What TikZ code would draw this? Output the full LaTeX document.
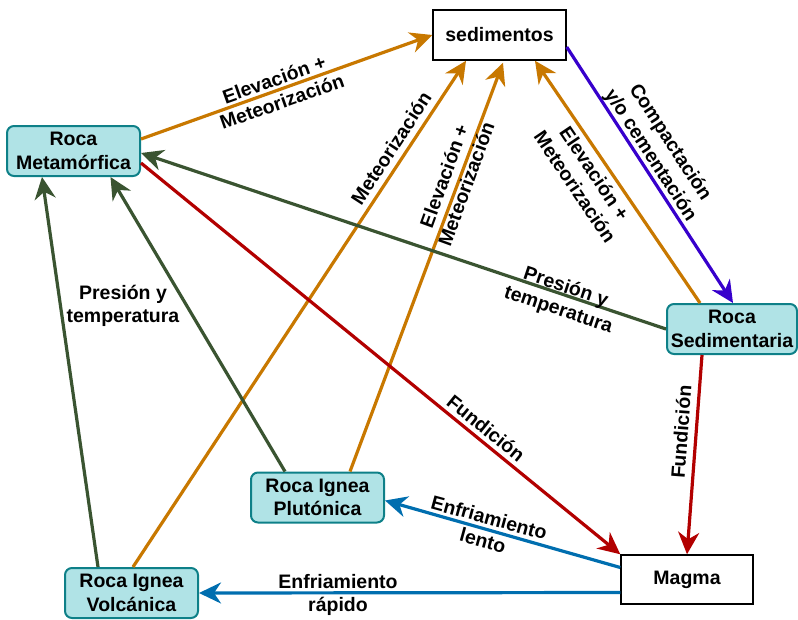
\documentclass[tikz,border=0pt]{standalone}
\usepackage{fontspec}
\setmainfont{Liberation Sans}
\usetikzlibrary{arrows.meta}
\definecolor{rockfill}{HTML}{B0E3E6}
\definecolor{rockline}{HTML}{0E8088}
\definecolor{corange}{RGB}{200,120,0}
\definecolor{cgreen}{HTML}{3A5431}
\definecolor{cred}{HTML}{B20000}
\definecolor{cblue}{HTML}{006EAF}
\definecolor{cpurple}{HTML}{3700CC}
\tikzset{
  txt/.style={font=\fontsize{19.5}{23.5}\selectfont\bfseries, align=center},
  rock/.style={txt, draw=rockline, fill=rockfill, line width=2pt, rounded corners=7pt,
    minimum width=133pt, minimum height=50pt, inner sep=0pt},
  plainbox/.style={txt, draw=black, fill=white, line width=1.5pt,
    minimum width=133pt, minimum height=50pt, inner sep=0pt},
  conn/.style={line width=3.2pt, -{Stealth[length=22pt,width=21pt,inset=7pt]}},
  orng/.style={conn, draw=corange},
  grn/.style={conn, draw=cgreen},
  rd/.style={conn, draw=cred},
  blu/.style={conn, draw=cblue},
  purp/.style={conn, draw=cpurple},
  lbl/.style={txt, inner sep=0pt},
}
\begin{document}
\begin{tikzpicture}[x=1pt,y=-1pt]
\useasboundingbox (0,0) rectangle (798,619);
% nodes
\node[plainbox] (sed) at (499.5,35) {sedimentos};
\node[rock] (met) at (73.5,151) {Roca\\Metamórfica};
\node[rock, minimum width=130pt] (sedi) at (732,329) {Roca\\Sedimentaria};
\node[rock] (plut) at (317.5,497.5) {Roca Ignea\\Plutónica};
\node[rock] (volc) at (131.5,593) {Roca Ignea\\Volcánica};
\node[plainbox, minimum width=132pt, minimum height=49pt] (magma) at (687,579.5) {Magma};
% connectors
\draw[orng] ([yshift=12pt]met.east) -- (sed.west);
\draw[orng] ([xshift=1.5pt]volc.north) -- ([xshift=-33.5pt]sed.south);
\draw[orng] ([xshift=32.5pt]plut.north) -- ([xshift=3.5pt,yshift=-2pt]sed.south);
\draw[orng] ([xshift=-32pt]sedi.north) -- ([xshift=35.5pt]sed.south);
\draw[purp] ([yshift=-12pt]sed.east) -- ([xshift=1pt]sedi.north);
\draw[grn] (sedi.west) -- ([yshift=-2pt]met.east);
\draw[grn] ([xshift=-33.5pt]volc.north) -- ([xshift=-31.5pt]met.south);
\draw[grn] ([xshift=-32.5pt]plut.north) -- ([xshift=37pt]met.south);
\draw[rd] ([yshift=-12pt]met.east) -- (magma.north west);
\draw[rd] ([xshift=-30pt]sedi.south) -- (magma.north);
\draw[blu] ([yshift=12pt]magma.west) -- ([yshift=-3pt]plut.east);
\draw[blu] ([yshift=-13pt]magma.west) -- (volc.east);
% labels
\node[lbl, rotate=19.5] (l1) at (278,90.5) {Elevación +\\Meteorización};
\node[lbl, rotate=56.8] (l2) at (391,148) {Meteorización};
\node[lbl, rotate=70] (l3) at (455,180) {Elevación +\\Meteorización};
\node[lbl, rotate=-56] (l4) at (585,180) {Elevación +\\Meteorización};
\node[lbl, rotate=-57] (l5) at (660,149) {Compactación\\y/o cementación};
\node[lbl, rotate=-18.5] (l6) at (562,299) {Presión y\\temperatura};
\node[lbl] (l7) at (123,306) {Presión y\\temperatura};
\node[lbl, rotate=-39] (l8) at (486,428) {Fundición};
\node[lbl, rotate=85.7] (l9) at (681,432) {Fundición};
\node[lbl, rotate=-15.3] (l10) at (486,529) {Enfriamiento\\lento};
\node[lbl] (l11) at (338,595) {Enfriamiento\\rápido};
\end{tikzpicture}
\end{document}
